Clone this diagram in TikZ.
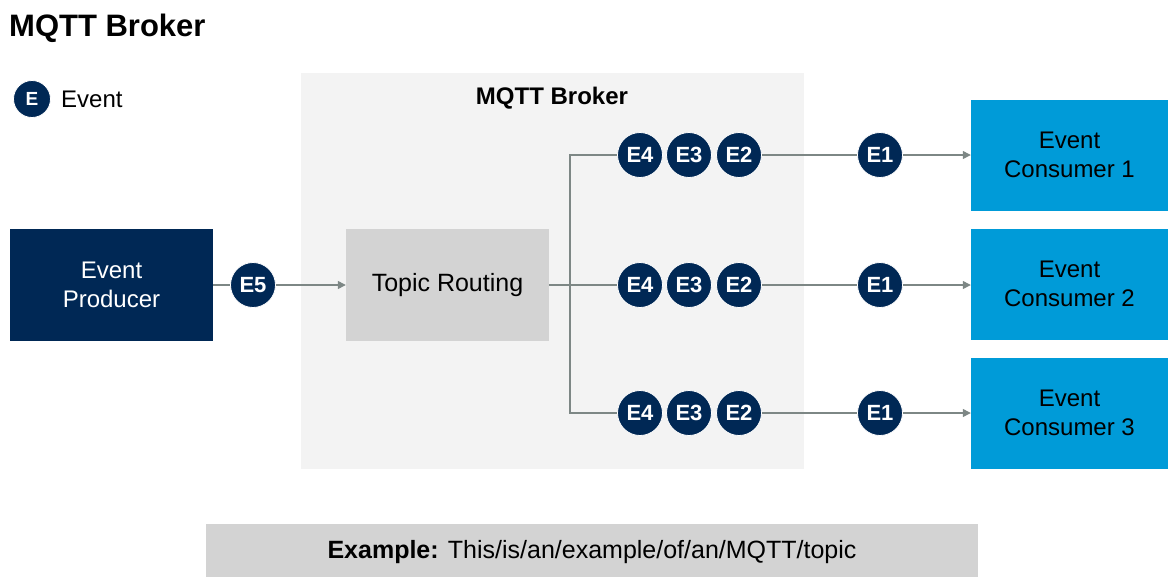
\documentclass[tikz,border=0pt]{standalone}
\usepackage{fontspec}
\setmainfont{Liberation Sans}
\usetikzlibrary{arrows.meta}
\definecolor{navy}{HTML}{002855}
\definecolor{sky}{HTML}{009BD8}
\definecolor{panel}{HTML}{F3F3F3}
\definecolor{boxgray}{HTML}{D3D3D3}
\definecolor{wire}{HTML}{7D8785}
\begin{document}
\begin{tikzpicture}[x=1pt,y=-1pt,
  evt/.style={circle,fill=navy,draw=white,line width=0.8pt,minimum size=45pt,inner sep=0pt,
    text=white,font=\fontsize{22}{22}\selectfont\bfseries},
  block/.style={minimum width=203pt,minimum height=112pt,inner sep=0pt,align=center,
    font=\fontsize{24}{29}\selectfont},
  consumer/.style={block,fill=sky,minimum width=197pt,minimum height=111pt},
  wireline/.style={draw=wire,line width=1.3pt},
  arr/.style={wireline,-{Triangle[length=8pt,width=8pt]}}]
\useasboundingbox (0,0) rectangle (1168,576);

% broker panel
\fill[panel] (301,73) rectangle (804,469);
\node[font=\fontsize{24}{24}\selectfont\bfseries] (brokerlabel) at (552,98) {MQTT Broker};

% heading and legend
\node[anchor=west,inner sep=0pt,font=\fontsize{31}{31}\selectfont\bfseries] (title) at (9,28) {MQTT Broker};
\node[evt,minimum size=37pt,font=\fontsize{19}{19}\selectfont\bfseries] (legendE) at (32,99) {E};
\node[anchor=west,inner sep=0pt,font=\fontsize{24}{24}\selectfont] (legendtxt) at (61,99) {Event};

% producer and routing
\node[block,fill=navy,text=white] (producer) at (111.5,285) {Event\\Producer};
\node[block,fill=boxgray,font=\fontsize{25}{25}\selectfont] (routing) at (447.5,285) {Topic Routing};
\node[evt] (e5) at (253,285) {E5};
\draw[wireline] (producer.east) -- (e5.west);
\draw[arr] (e5.east) -- (routing.west);
\coordinate (split) at (570,285);
\draw[wireline] (routing.east) -- (split);

% consumers
\node[consumer] (c1) at (1069.5,155) {Event\\Consumer 1};
\node[consumer] (c2) at (1069.5,284) {Event\\Consumer 2};
\node[consumer] (c3) at (1069.5,413) {Event\\Consumer 3};

% per-subscriber queues
\foreach \r/\y in {1/155,2/285,3/413}{
  \node[evt] (q\r e4) at (640,\y) {E4};
  \node[evt] (q\r e3) at (689,\y) {E3};
  \node[evt] (q\r e2) at (739,\y) {E2};
  \node[evt] (q\r e1) at (880,\y) {E1};
  \draw[wireline] (split) |- (q\r e4.west);
  \draw[wireline] (q\r e2.east) -- (q\r e1.west);
  \draw[arr] (q\r e1.east) -- (c\r.west |- q\r e1.east);
}

% topic example bar
\fill[boxgray] (206,524) rectangle (978,580);
\node[font=\fontsize{25}{25}\selectfont] (example) at (592,552)
  {\textbf{Example:} This/is/an/example/of/an/MQTT/topic};
\end{tikzpicture}
\end{document}
